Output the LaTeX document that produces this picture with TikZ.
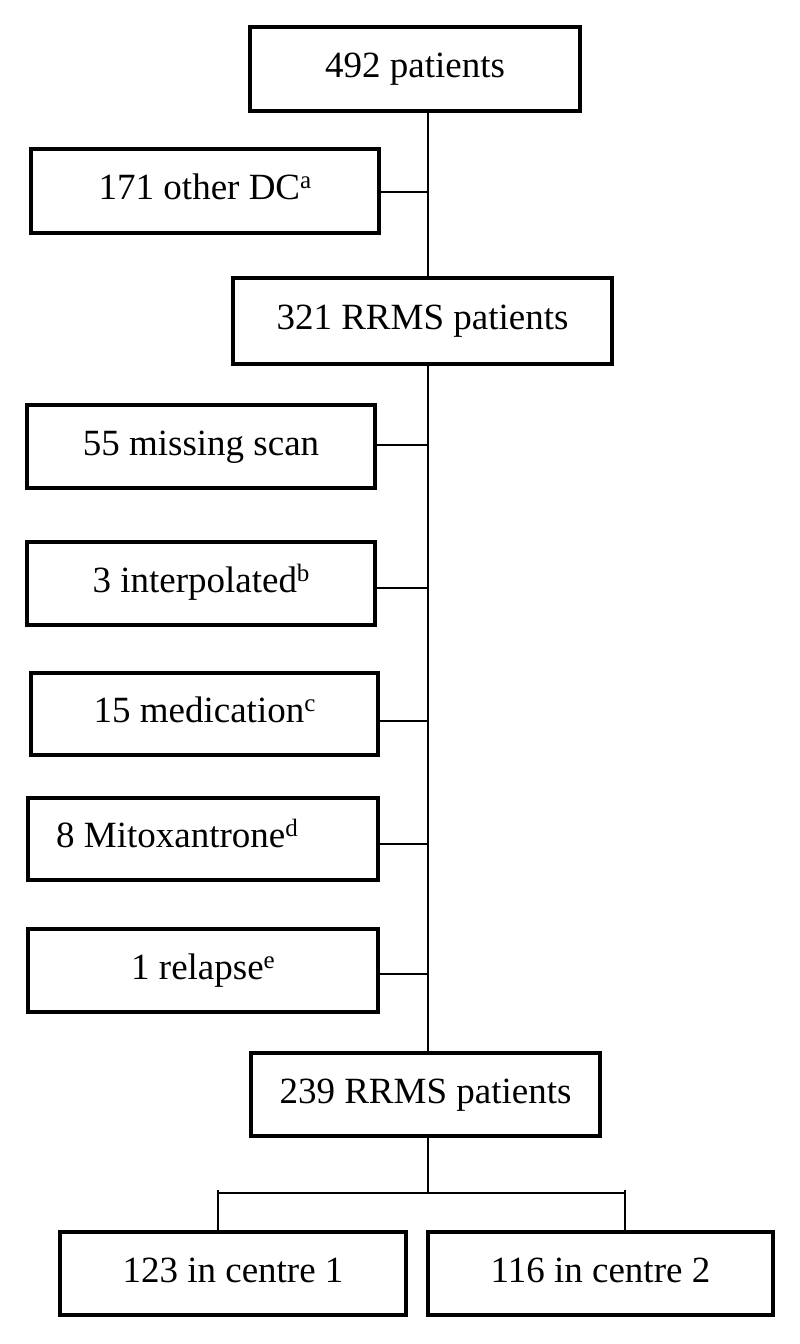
\documentclass[tikz,border=0pt]{standalone}
\usepackage{fontspec}
\setmainfont{Liberation Serif}
\newcommand\supx[1]{\raisebox{11pt}{\fontsize{25}{25}\selectfont #1}}
\begin{document}
\begin{tikzpicture}[x=1pt,y=-1pt,
  box/.style={draw, line width=4pt, inner sep=0pt, font=\fontsize{37}{44}\selectfont,
              text height=25pt, text depth=8pt, minimum height=84pt},
  conn/.style={line width=2pt}]
\useasboundingbox[fill=white] (0,0) rectangle (800,1344);
% nodes
\node[box, minimum width=330pt] (n492) at (415,69) {492 patients};
\node[box, minimum width=348pt] (n171) at (205,191) {171 other DC\supx{a}};
\node[box, minimum width=379pt, minimum height=86pt] (n321) at (422.5,321) {321 RRMS patients};
\node[box, minimum width=348pt, minimum height=83pt] (n55) at (201,446.5) {55 missing scan};
\node[box, minimum width=348pt, minimum height=83pt] (n3) at (201,583.5) {3 interpolated\supx{b}};
\node[box, minimum width=347pt, minimum height=82pt] (n15) at (204.5,714) {15 medication\supx{c}};
\node[box, minimum width=350pt, minimum height=82pt] (n8) at (203,839) {8 Mitoxantrone\supx{d}\hspace*{52pt}};
\node[box, minimum width=350pt, minimum height=83pt] (n1) at (203,970.5) {1 relapse\supx{e}};
\node[box, minimum width=349pt, minimum height=83pt] (n239) at (425.5,1094.5) {239 RRMS patients};
\node[box, minimum width=346pt, minimum height=83pt] (n123) at (233,1273.5) {123 in centre 1};
\node[box, minimum width=345pt, minimum height=83pt] (n116) at (600.5,1273.5) {116 in centre 2};
% spine
\coordinate (spine) at (427.5,0);
\draw[conn] (n492.south -| spine) -- (n321.north -| spine);
\draw[conn] (n321.south -| spine) -- ([yshift=-4pt]n239.north -| spine);
% side branches
\draw[conn] ([yshift=-1pt]n171.east) -- ([yshift=-1pt]n171.east -| spine);
\draw[conn] ([yshift=1.5pt]n55.east) -- ([yshift=1.5pt]n55.east -| spine);
\draw[conn] ([yshift=-4.5pt]n3.east) -- ([yshift=-4.5pt]n3.east -| spine);
\draw[conn] ([yshift=-7pt]n15.east) -- ([yshift=-7pt]n15.east -| spine);
\draw[conn] ([yshift=-5pt,xshift=-4pt]n8.east) -- ([yshift=-5pt]n8.east -| spine);
\draw[conn] ([yshift=-3.5pt]n1.east) -- ([yshift=-3.5pt]n1.east -| spine);
% bottom fork
\coordinate (fork) at (427.5,1193);
\coordinate (hl) at (218,1193);
\coordinate (hr) at (625,1193);
\draw[conn] (n239.south -| fork) -- (fork);
\draw[conn] (hl) -- (hr);
\draw[conn] ([yshift=3pt]hl) -- (hl |- n123.north);
\draw[conn] ([yshift=3pt]hr) -- (hr |- n116.north);
\end{tikzpicture}
\end{document}
